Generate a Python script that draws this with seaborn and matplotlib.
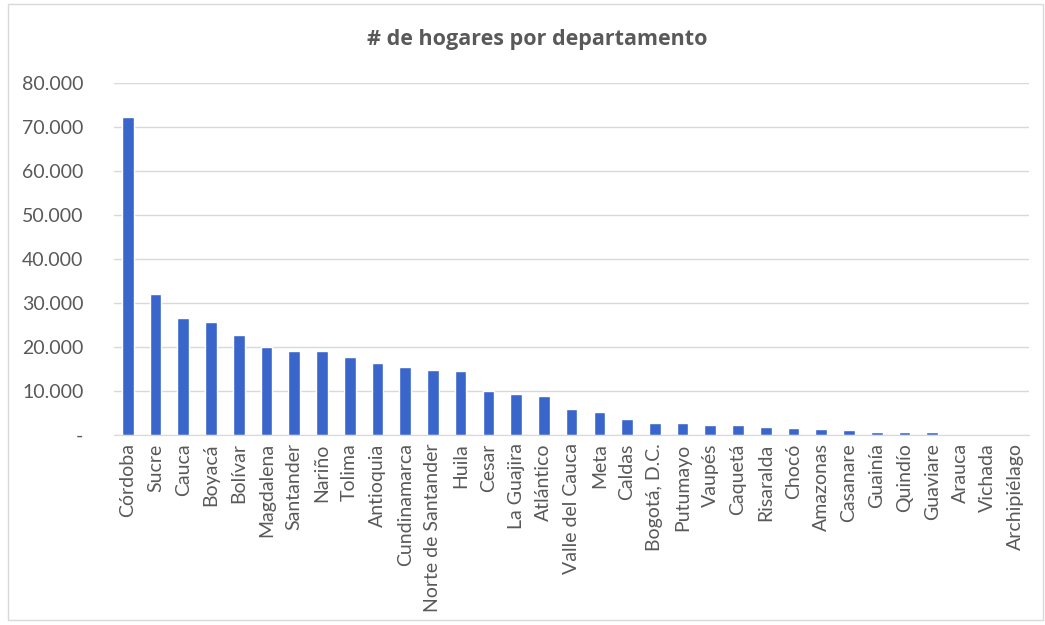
import matplotlib
matplotlib.use('Agg')
import pandas as pd
import seaborn as sns
import matplotlib.pyplot as plt
from matplotlib.patches import Rectangle
from matplotlib.ticker import FuncFormatter

departamentos = ['Córdoba', 'Sucre', 'Cauca', 'Boyacá', 'Bolívar', 'Magdalena', 'Santander',
                 'Nariño', 'Tolima', 'Antioquia', 'Cundinamarca', 'Norte de Santander', 'Huila',
                 'Cesar', 'La Guajira', 'Atlántico', 'Valle del Cauca', 'Meta', 'Caldas',
                 'Bogotá, D.C.', 'Putumayo', 'Vaupés', 'Caquetá', 'Risaralda', 'Chocó',
                 'Amazonas', 'Casanare', 'Guainía', 'Quindío', 'Guaviare', 'Arauca', 'Vichada',
                 'Archipiélago']
hogares = [72200, 32000, 26500, 25700, 22700, 19900, 19000, 19000, 17700, 16300, 15400,
           14700, 14500, 9900, 9400, 8900, 5900, 5300, 3600, 2700, 2700, 2200, 2200, 1800,
           1500, 1300, 1200, 600, 600, 600, 0, 0, 0]

df = pd.DataFrame({'departamento': departamentos, 'hogares': hogares})

sns.set_style('white')
plt.rcParams['font.family'] = ['Lato', 'DejaVu Sans']

fig = plt.figure(figsize=(10.45, 6.25), dpi=100)
ax = fig.add_axes([0.109, 0.304, 0.876, 0.563])

# marco gris del grafico
fig.patches.append(Rectangle((8 / 1045, 5 / 625), 1 - 10 / 1045, 1 - 9 / 625, transform=fig.transFigure,
                             fill=False, edgecolor='#d9d9d9', linewidth=1))

sns.barplot(data=df, x='departamento', y='hogares', color='#3a66cc', width=0.42, ax=ax, saturation=1)

ax.set_ylim(0, 80000)
ax.set_yticks(range(0, 80001, 10000))
ax.yaxis.set_major_formatter(FuncFormatter(lambda v, p: '-' if v == 0 else f'{int(v):,}'.replace(',', '.')))
ax.grid(axis='y', color='#d9d9d9', linewidth=1)
ax.set_axisbelow(True)
for s in ['top', 'right', 'left']:
    ax.spines[s].set_visible(False)
ax.spines['bottom'].set_color('#d9d9d9')
ax.tick_params(axis='x', rotation=90, labelsize=14, colors='#595959', length=0, pad=6)
ax.tick_params(axis='y', labelsize=14, colors='#595959', length=0, pad=22)
ax.set_xlabel('')
ax.set_ylabel('')

fig.text(0.514, 0.937, '# de hogares por departamento', ha='center', va='center', fontsize=15.5,
         fontweight='bold', color='#595959', family=['Open Sans', 'DejaVu Sans'])

fig.savefig('out.png', dpi=100)
